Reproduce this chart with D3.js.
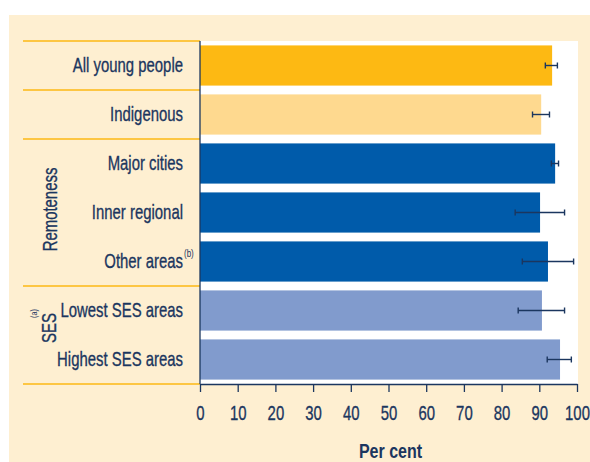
<!DOCTYPE html>
<html>
<head>
<meta charset="utf-8">
<script src="https://cdn.jsdelivr.net/npm/d3@7"></script>
<style>
  body { margin: 0; background: #fff; }
  svg { display: block; }
  .heavy { stroke: #1b365f; stroke-width: 0.35px; }
</style>
</head>
<body>
<div id="chart"></div>
<script>
// Data
const categories = ["All young people", "Indigenous", "Major cities", "Inner regional", "Other areas", "Lowest SES areas", "Highest SES areas"];
const groupOf = ["All", "Indigenous", "Remoteness", "Remoteness", "Remoteness", "SES", "SES"];
const footnotes = ["", "", "", "", "(b)", "", ""];
const values = [93.4, 90.5, 94.2, 90.2, 92.3, 90.7, 95.5];
const lower = [91.6, 88.2, 93.2, 83.6, 85.5, 84.4, 92.1];
const upper = [94.8, 92.7, 95.1, 96.7, 99.1, 96.7, 98.5];
const xTicks = [0, 10, 20, 30, 40, 50, 60, 70, 80, 90, 100];

const rows = categories.map((c, i) => ({
    name: c, group: groupOf[i], note: footnotes[i],
    value: values[i], lo: lower[i], hi: upper[i]
}));

function drawChart() {
    const W = 590, H = 462;
    const navy = "#1b365f";
    const orange = "#fdb913";
    const cond = 0.71; // squeeze to imitate a condensed face

    const svg = d3.select("#chart").append("svg")
        .attr("width", W)
        .attr("height", H)
        .style("font-family", "'Liberation Sans', Arial, sans-serif");

    // cream panel and white plot area
    svg.append("rect").attr("x", 9).attr("y", 15).attr("width", W - 9).attr("height", H - 15)
        .attr("fill", "#feefd1");

    const x = d3.scaleLinear().domain([0, 100]).range([200, 577]);
    const y = d3.scaleBand().domain(categories).range([41, 384])
        .paddingInner(0.18).paddingOuter(0.09);

    svg.append("rect").attr("x", x(0)).attr("y", 41)
        .attr("width", 578 - x(0)).attr("height", 384 - 41)
        .attr("fill", "#fff");

    const color = d3.scaleOrdinal()
        .domain(["All", "Indigenous", "Remoteness", "SES"])
        .range([orange, "#fed98f", "#005baa", "#819bcd"]);

    // bars
    svg.selectAll("rect.bar")
        .data(rows)
        .enter().append("rect")
        .attr("class", "bar")
        .attr("x", x(0))
        .attr("y", d => y(d.name))
        .attr("width", d => x(d.value) - x(0))
        .attr("height", y.bandwidth())
        .attr("fill", d => color(d.group));

    // error bars
    const err = svg.selectAll("g.err")
        .data(rows)
        .enter().append("g")
        .attr("class", "err")
        .attr("transform", d => `translate(0, ${y(d.name) + y.bandwidth() / 2})`)
        .attr("stroke", navy)
        .attr("stroke-width", 1.4);
    err.append("line").attr("x1", d => x(d.lo)).attr("x2", d => x(d.hi));
    err.append("line").attr("x1", d => x(d.lo)).attr("x2", d => x(d.lo)).attr("y1", -3).attr("y2", 3);
    err.append("line").attr("x1", d => x(d.hi)).attr("x2", d => x(d.hi)).attr("y1", -3).attr("y2", 3);

    // separator lines between groups
    const gap = y.step() * y.paddingInner() / 2;
    const seps = [];
    rows.forEach((d, i) => {
        if (i === 0 || d.group !== rows[i - 1].group) seps.push(y(d.name) - gap);
    });
    seps.push(y(categories[categories.length - 1]) + y.bandwidth() + gap);
    svg.selectAll("line.sep")
        .data(seps)
        .enter().append("line")
        .attr("class", "sep")
        .attr("x1", 23).attr("x2", x(0))
        .attr("y1", d => d).attr("y2", d => d)
        .attr("stroke", orange)
        .attr("stroke-width", 1.5);

    // vertical axis line
    svg.append("line")
        .attr("x1", x(0)).attr("x2", x(0))
        .attr("y1", 41).attr("y2", 384)
        .attr("stroke", navy).attr("stroke-width", 1.3);

    // category labels
    const labels = svg.selectAll("g.lab")
        .data(rows)
        .enter().append("g")
        .attr("class", "lab")
        .attr("transform", d => `translate(183, ${y(d.name) + y.bandwidth() / 2 + 6})`);
    labels.append("text")
        .attr("class", "heavy")
        .attr("transform", `scale(${cond},1)`)
        .attr("text-anchor", "end")
        .style("font-size", "21px")
        .style("fill", navy)
        .text(d => d.name);
    labels.filter(d => d.note).append("text")
        .attr("transform", `translate(1, -11) scale(0.8,1)`)
        .style("font-size", "10px")
        .style("fill", navy)
        .text(d => d.note);

    // group labels (rotated)
    const remRows = rows.filter(d => d.group === "Remoteness");
    const remMid = (y(remRows[0].name) + y(remRows[remRows.length - 1].name) + y.bandwidth()) / 2;
    svg.append("text")
        .attr("class", "heavy")
        .attr("transform", `translate(56.5, ${remMid - 3}) rotate(-90) scale(${cond},1)`)
        .attr("text-anchor", "middle")
        .style("font-size", "21px")
        .style("fill", navy)
        .text("Remoteness");

    const sesRows = rows.filter(d => d.group === "SES");
    const sesMid = (y(sesRows[0].name) + y(sesRows[sesRows.length - 1].name) + y.bandwidth()) / 2;
    const sesG = svg.append("g")
        .attr("transform", `translate(56, ${sesMid + 8}) rotate(-90)`);
    sesG.append("text")
        .attr("class", "heavy")
        .attr("transform", `scale(${cond},1)`)
        .style("font-size", "21px")
        .style("fill", navy)
        .text("SES");
    sesG.append("text")
        .attr("transform", "translate(25, -19) scale(0.8,1)")
        .style("font-size", "9px")
        .style("fill", navy)
        .text("(a)");

    // x axis
    const xAxis = svg.append("g")
        .attr("transform", "translate(0, 384)")
        .call(d3.axisBottom(x).tickValues(xTicks).tickSize(8).tickSizeOuter(0));
    xAxis.select(".domain").attr("stroke", navy).attr("stroke-width", 1.3);
    xAxis.selectAll(".tick line").attr("stroke", navy).attr("stroke-width", 1.3);
    xAxis.selectAll(".tick text").remove();
    xAxis.selectAll(".tick").append("text")
        .attr("class", "heavy")
        .attr("transform", `translate(0, 36) scale(${cond},1)`)
        .attr("text-anchor", "middle")
        .style("font-size", "21px")
        .style("font-family", "'Liberation Sans', Arial, sans-serif")
        .attr("fill", navy)
        .text(d => d);

    svg.append("text")
        .attr("transform", `translate(${(x(0) + x(100)) / 2 + 2}, 458) scale(0.8,1)`)
        .attr("text-anchor", "middle")
        .style("font-size", "20px")
        .style("font-weight", "bold")
        .style("fill", navy)
        .text("Per cent");
}

drawChart();
</script>
</body>
</html>
